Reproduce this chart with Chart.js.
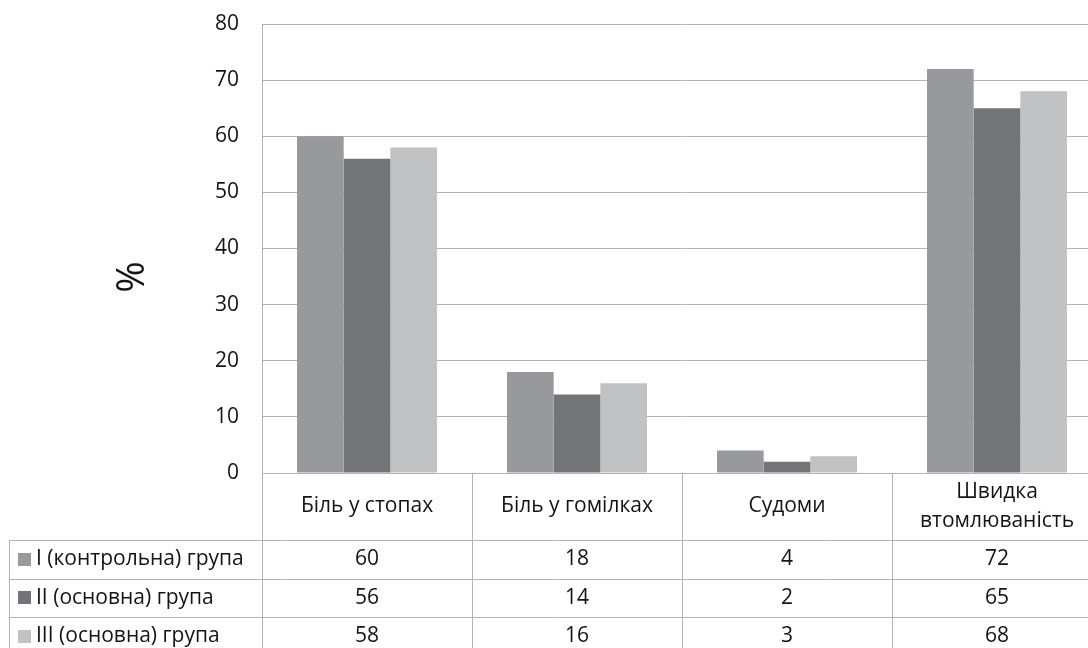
<!DOCTYPE html>
<html>
<head>
<meta charset="utf-8">
<script src="https://cdn.jsdelivr.net/npm/chart.js@4.4.0/dist/chart.umd.min.js"></script>
<style>
  html, body { margin: 0; padding: 0; background: #fff; overflow: hidden; }
  canvas { display: block; }
</style>
</head>
<body>
<canvas id="canvas" width="1104" height="660"></canvas>
<script>
var categories = ['Біль у стопах', 'Біль у гомілках', 'Судоми', ['Швидка', 'втомлюваність']];
var seriesNames = ['I (контрольна) група', 'II (основна) група', 'III (основна) група'];
var group1 = [60, 18, 4, 72];
var group2 = [56, 14, 2, 65];
var group3 = [58, 16, 3, 68];
var yTicks = [0, 10, 20, 30, 40, 50, 60, 70, 80];
var axisTitle = '%';

var colors = ['#98999c', '#737477', '#c1c2c4'];
var lineColor = '#b4b4b4';
var textColor = '#141414';
var fontFamily = '"Open Sans", "DejaVu Sans", sans-serif';

// draws the data table under the plot, aligned with the category columns
var tablePlugin = {
	id: 'dataTable',
	afterDraw: function(chart) {
		var ctx = chart.ctx;
		var area = chart.chartArea;
		var x = chart.scales.x;
		var colW = (area.right - area.left) / categories.length;
		var top = area.bottom;
		var headerBottom = 540;
		var rowH = 38.5;
		var rows = chart.data.datasets.length;
		var bottom = headerBottom + rowH * rows;
		var tableLeft = 9;

		ctx.save();
		ctx.strokeStyle = lineColor;
		ctx.lineWidth = 1;
		ctx.beginPath();
		// vertical lines at column borders
		for (var i = 0; i <= categories.length; i++) {
			var vx = Math.round(area.left + i * colW) + 0.5;
			ctx.moveTo(vx, top);
			ctx.lineTo(vx, bottom);
		}
		ctx.moveTo(tableLeft + 0.5, headerBottom);
		ctx.lineTo(tableLeft + 0.5, bottom);
		// horizontal row lines
		for (var r = 0; r <= rows; r++) {
			var hy = Math.round(headerBottom + r * rowH) + 0.5;
			ctx.moveTo(tableLeft, hy);
			ctx.lineTo(area.right, hy);
		}
		ctx.stroke();

		ctx.fillStyle = textColor;
		ctx.font = '21px ' + fontFamily;
		ctx.textAlign = 'center';
		ctx.textBaseline = 'middle';
		// header
		var headerMid = (top + headerBottom) / 2;
		categories.forEach(function(cat, i) {
			var cx = x.getPixelForValue(i);
			var lines = Array.isArray(cat) ? cat : [cat];
			var lh = 29;
			var y0 = headerMid - (lines.length - 1) * lh / 2;
			lines.forEach(function(line, k) {
				ctx.fillText(line, cx, y0 + k * lh);
			});
		});
		// rows
		chart.data.datasets.forEach(function(ds, r) {
			var cy = headerBottom + r * rowH + rowH / 2;
			ctx.fillStyle = ds.backgroundColor;
			ctx.fillRect(18, Math.round(cy - 6.5), 13, 13);
			ctx.fillStyle = textColor;
			ctx.textAlign = 'left';
			ctx.fillText(ds.label, 36, cy);
			ctx.textAlign = 'center';
			ds.data.forEach(function(v, i) {
				ctx.fillText(String(v), x.getPixelForValue(i), cy);
			});
		});
		ctx.restore();
	}
};

// rotated axis title
var titlePlugin = {
	id: 'axisTitle',
	afterDraw: function(chart) {
		var ctx = chart.ctx;
		ctx.save();
		ctx.translate(133, 277);
		ctx.rotate(-Math.PI / 2);
		ctx.fillStyle = textColor;
		ctx.font = '38px ' + fontFamily;
		ctx.textAlign = 'center';
		ctx.textBaseline = 'middle';
		ctx.fillText(axisTitle, 0, 0);
		ctx.restore();
	}
};

var config = {
	type: 'bar',
	data: {
		labels: categories,
		datasets: [{
			label: seriesNames[0],
			data: group1,
			backgroundColor: colors[0]
		}, {
			label: seriesNames[1],
			data: group2,
			backgroundColor: colors[1]
		}, {
			label: seriesNames[2],
			data: group3,
			backgroundColor: colors[2]
		}]
	},
	options: {
		responsive: false,
		animation: false,
		devicePixelRatio: 1,
		layout: { autoPadding: false, padding: { top: 24, right: 2, bottom: 187, left: 0 } },
		datasets: {
			bar: { categoryPercentage: 140 / 210, barPercentage: 1, borderWidth: 0 }
		},
		plugins: {
			legend: { display: false },
			tooltip: { enabled: false }
		},
		scales: {
			x: { display: false },
			y: {
				min: 0,
				max: 80,
				afterBuildTicks: function(scale) {
					scale.ticks = yTicks.map(function(v) { return { value: v }; });
				},
				afterFit: function(scale) {
					scale.width = 262;
					scale.paddingTop = 0;
					scale.paddingBottom = 0;
				},
				grid: { color: lineColor, lineWidth: 1, drawTicks: false },
				border: { display: true, color: lineColor },
				ticks: {
					padding: 23,
					color: textColor,
					font: { family: fontFamily, size: 21 }
				}
			}
		}
	},
	plugins: [tablePlugin, titlePlugin]
};

var mychart = new Chart(document.getElementById('canvas').getContext('2d'), config);
</script>
</body>
</html>
